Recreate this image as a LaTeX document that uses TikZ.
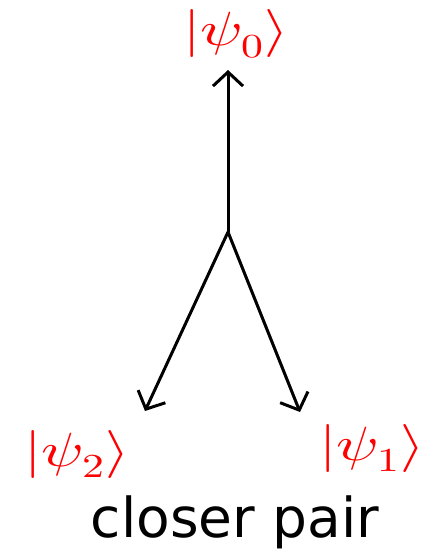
\documentclass[tikz,border=0pt]{standalone}
\usepackage{fontspec}
\usepackage{unicode-math}
\setmainfont{DejaVu Sans}
\setmathfont{Latin Modern Math}
\usetikzlibrary{arrows.meta}
\definecolor{kred}{RGB}{255,0,0}
\newcommand{\widek}[1]{\scalebox{1.3}[1]{#1}}
\tikzset{
  vec/.style={line width=3pt, -{Straight Barb[length=14pt,width=30pt,line width=3pt]}},
  ket/.style={text=kred, font=\fontsize{48}{54}\selectfont, inner sep=0pt},
  caption/.style={font=\fontsize{55}{60}\selectfont, inner sep=0pt}
}
\begin{document}
\begin{tikzpicture}[x=1pt,y=-1pt]
\useasboundingbox (0,0) rectangle (430,550);
\coordinate (o) at (228,232);
\coordinate (t0) at (228,70);
\coordinate (t2) at (145,411);
\coordinate (t1) at (300,412);
\draw[vec] (o) -- (t0);
\draw[vec] (o) -- (t2);
\draw[vec] (o) -- (t1);
\node[ket] (k0) at (236,34) {\widek{$|\psi_0\rangle$}};
\node[ket] (k2) at (77,454) {\widek{$|\psi_2\rangle$}};
\node[ket] (k1) at (372,448) {\widek{$|\psi_1\rangle$}};
\node[caption] (cap) at (235,522) {closer pair};
\end{tikzpicture}
\end{document}
